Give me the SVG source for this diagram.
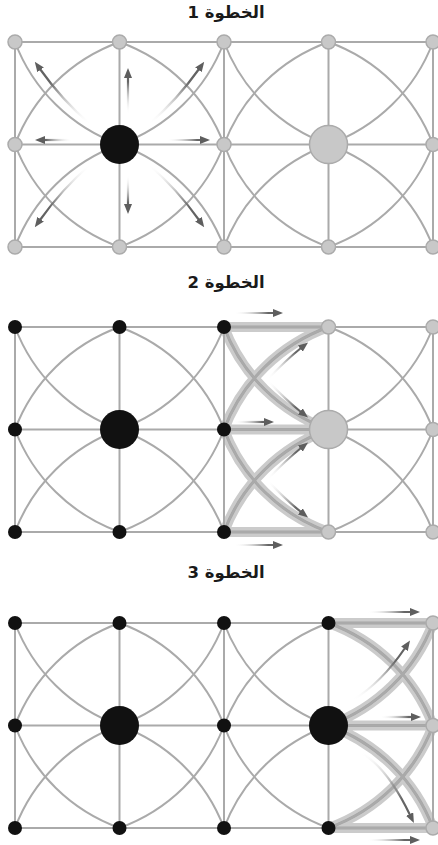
<svg xmlns="http://www.w3.org/2000/svg" width="438" height="845" viewBox="0 0 438 845">
<style>
.ln{fill:none;stroke:#aaaaaa;stroke-width:2}
.band{fill:none;stroke:#cbcbcb;stroke-width:10}
.bandc{fill:none;stroke:#a6a6a6;stroke-width:3}
.ng{fill:#c8c8c8;stroke:#ababab;stroke-width:1.5}
.nb{fill:#111111}
.arr{fill:none;stroke-width:2.2;marker-end:url(#ah)}
.title{font-family:'DejaVu Sans',sans-serif;font-weight:bold;font-size:16.5px;text-anchor:middle;fill:#1a1a1a}
</style>
<defs>
<marker id="ah" viewBox="0 0 10 8" refX="1" refY="4" markerWidth="10" markerHeight="8" markerUnits="userSpaceOnUse" orient="auto"><path d="M0,0 L10,4 L0,8 z" fill="#5e5e5e"/></marker>
<linearGradient id="fade"><stop offset="0" stop-color="#ffffff" stop-opacity="0"/><stop offset="0.7" stop-color="#666666" stop-opacity="1"/><stop offset="1" stop-color="#5e5e5e"/></linearGradient>
<linearGradient id="g1u" href="#fade" gradientUnits="userSpaceOnUse" x1="128" y1="114" x2="128" y2="68"/>
<linearGradient id="g1d" href="#fade" gradientUnits="userSpaceOnUse" x1="128" y1="175" x2="128" y2="214"/>
<linearGradient id="g1l" href="#fade" gradientUnits="userSpaceOnUse" x1="72" y1="140" x2="35" y2="140"/>
<linearGradient id="g1r" href="#fade" gradientUnits="userSpaceOnUse" x1="167" y1="140" x2="210" y2="140"/>
<linearGradient id="g1ul" href="#fade" gradientUnits="userSpaceOnUse" x1="90" y1="124" x2="36" y2="61"/>
<linearGradient id="g1ur" href="#fade" gradientUnits="userSpaceOnUse" x1="149" y1="124" x2="203" y2="61"/>
<linearGradient id="g1dl" href="#fade" gradientUnits="userSpaceOnUse" x1="90" y1="165" x2="36" y2="228"/>
<linearGradient id="g1dr" href="#fade" gradientUnits="userSpaceOnUse" x1="149" y1="165" x2="203" y2="228"/>
<linearGradient id="g2t" href="#fade" gradientUnits="userSpaceOnUse" x1="234" y1="313" x2="283" y2="313"/>
<linearGradient id="g2m" href="#fade" gradientUnits="userSpaceOnUse" x1="234" y1="422" x2="274" y2="422"/>
<linearGradient id="g2b" href="#fade" gradientUnits="userSpaceOnUse" x1="234" y1="545" x2="283" y2="545"/>
<linearGradient id="g2a" href="#fade" gradientUnits="userSpaceOnUse" x1="268" y1="379" x2="309" y2="343"/>
<linearGradient id="g2c" href="#fade" gradientUnits="userSpaceOnUse" x1="268" y1="381" x2="309" y2="417"/>
<linearGradient id="g2e" href="#fade" gradientUnits="userSpaceOnUse" x1="268" y1="479" x2="309" y2="443"/>
<linearGradient id="g2f" href="#fade" gradientUnits="userSpaceOnUse" x1="268" y1="481" x2="309" y2="517"/>
<linearGradient id="g3t" href="#fade" gradientUnits="userSpaceOnUse" x1="367" y1="612" x2="420" y2="612"/>
<linearGradient id="g3m" href="#fade" gradientUnits="userSpaceOnUse" x1="380" y1="717" x2="421" y2="717"/>
<linearGradient id="g3b" href="#fade" gradientUnits="userSpaceOnUse" x1="367" y1="840" x2="420" y2="840"/>
<linearGradient id="g3u" href="#fade" gradientUnits="userSpaceOnUse" x1="353" y1="700" x2="410" y2="640"/>
<linearGradient id="g3d" href="#fade" gradientUnits="userSpaceOnUse" x1="360" y1="752" x2="414" y2="823"/>
<g id="lattice" class="ln">
<path d="M15,0 H433 M15,102.5 H433 M15,205 H433 M15,0 V205 M119.5,0 V205 M224,0 V205 M328.5,0 V205 M433,0 V205"/>
<path d="M15,102.5 A176,173 0 0 1 119.5,0 A176,173 0 0 1 224,102.5 A176,173 0 0 1 119.5,205 A176,173 0 0 1 15,102.5"/>
<path d="M15,0 A176,173 0 0 0 119.5,102.5 A176,173 0 0 0 224,0"/>
<path d="M15,205 A176,173 0 0 1 119.5,102.5 A176,173 0 0 1 224,205"/>
<path d="M224,102.5 A176,173 0 0 1 328.5,0 A176,173 0 0 1 433,102.5 A176,173 0 0 1 328.5,205 A176,173 0 0 1 224,102.5"/>
<path d="M224,0 A176,173 0 0 0 328.5,102.5 A176,173 0 0 0 433,0"/>
<path d="M224,205 A176,173 0 0 1 328.5,102.5 A176,173 0 0 1 433,205"/>
</g>
</defs>

<g id="titles">
<text class="title" x="226" y="18" direction="rtl">الخطوة 1</text>
<text class="title" x="226" y="288" direction="rtl">الخطوة 2</text>
<text class="title" x="226" y="578" direction="rtl">الخطوة 3</text>
</g>

<g id="connectors">
<g id="highlight-step2">
<path class="band" d="M224,327 H328.5 M224,429.5 H328.5 M224,532 H328.5 M224,429.5 A176,173 0 0 1 328.5,327 M224,429.5 A176,173 0 0 0 328.5,532 M224,327 A176,173 0 0 0 328.5,429.5 M224,532 A176,173 0 0 1 328.5,429.5"/>
<path class="bandc" d="M224,327 H328.5 M224,429.5 H328.5 M224,532 H328.5 M224,429.5 A176,173 0 0 1 328.5,327 M224,429.5 A176,173 0 0 0 328.5,532 M224,327 A176,173 0 0 0 328.5,429.5 M224,532 A176,173 0 0 1 328.5,429.5"/>
</g>
<g id="highlight-step3">
<path class="band" d="M328.5,623 H433 M328.5,725.5 H433 M328.5,828 H433 M328.5,623 A176,173 0 0 1 433,725.5 M433,725.5 A176,173 0 0 1 328.5,828 M328.5,725.5 A176,173 0 0 0 433,623 M328.5,725.5 A176,173 0 0 1 433,828"/>
<path class="bandc" d="M328.5,623 H433 M328.5,725.5 H433 M328.5,828 H433 M328.5,623 A176,173 0 0 1 433,725.5 M433,725.5 A176,173 0 0 1 328.5,828 M328.5,725.5 A176,173 0 0 0 433,623 M328.5,725.5 A176,173 0 0 1 433,828"/>
</g>
<use href="#lattice" transform="translate(0,42)"/>
<use href="#lattice" transform="translate(0,327)"/>
<use href="#lattice" transform="translate(0,623)"/>
</g>

<g id="arrows">
<path class="arr" stroke="url(#g1u)" d="M128,114 L128,77"/>
<path class="arr" stroke="url(#g1d)" d="M128,175 L128,205"/>
<path class="arr" stroke="url(#g1l)" d="M72,140 L44,140"/>
<path class="arr" stroke="url(#g1r)" d="M167,140 L201,140"/>
<path class="arr" stroke="url(#g1ul)" d="M90,124 Q62,100 40,69"/>
<path class="arr" stroke="url(#g1ur)" d="M149,124 Q177,100 199,69"/>
<path class="arr" stroke="url(#g1dl)" d="M90,165 Q62,189 40,220"/>
<path class="arr" stroke="url(#g1dr)" d="M149,165 Q177,189 199,220"/>
<path class="arr" stroke="url(#g2t)" d="M234,313 L274,313"/>
<path class="arr" stroke="url(#g2m)" d="M234,422 L265,422"/>
<path class="arr" stroke="url(#g2b)" d="M234,545 L274,545"/>
<path class="arr" stroke="url(#g2a)" d="M268,379 Q286,360 301,348"/>
<path class="arr" stroke="url(#g2c)" d="M268,381 Q286,400 301,412"/>
<path class="arr" stroke="url(#g2e)" d="M268,479 Q286,460 301,448"/>
<path class="arr" stroke="url(#g2f)" d="M268,481 Q286,500 301,512"/>
<path class="arr" stroke="url(#g3t)" d="M367,612 L411,612"/>
<path class="arr" stroke="url(#g3m)" d="M380,717 L412,717"/>
<path class="arr" stroke="url(#g3b)" d="M367,840 L411,840"/>
<path class="arr" stroke="url(#g3u)" d="M353,700 Q382,682 405,648"/>
<path class="arr" stroke="url(#g3d)" d="M360,752 Q387,767 410,815"/>
</g>

<g id="nodes-step1">
<g id="s1-a1"><circle class="ng" cx="15" cy="42" r="7"/></g>
<g id="s1-a2"><circle class="ng" cx="119.5" cy="42" r="7"/></g>
<g id="s1-a3"><circle class="ng" cx="224" cy="42" r="7"/></g>
<g id="s1-a4"><circle class="ng" cx="328.5" cy="42" r="7"/></g>
<g id="s1-a5"><circle class="ng" cx="433" cy="42" r="7"/></g>
<g id="s1-b1"><circle class="ng" cx="15" cy="144.5" r="7"/></g>
<g id="s1-b2"><circle class="nb" cx="119.5" cy="144.5" r="19.5"/></g>
<g id="s1-b3"><circle class="ng" cx="224" cy="144.5" r="7"/></g>
<g id="s1-b4"><circle class="ng" cx="328.5" cy="144.5" r="19"/></g>
<g id="s1-b5"><circle class="ng" cx="433" cy="144.5" r="7"/></g>
<g id="s1-c1"><circle class="ng" cx="15" cy="247" r="7"/></g>
<g id="s1-c2"><circle class="ng" cx="119.5" cy="247" r="7"/></g>
<g id="s1-c3"><circle class="ng" cx="224" cy="247" r="7"/></g>
<g id="s1-c4"><circle class="ng" cx="328.5" cy="247" r="7"/></g>
<g id="s1-c5"><circle class="ng" cx="433" cy="247" r="7"/></g>
</g>

<g id="nodes-step2">
<g id="s2-a1"><circle class="nb" cx="15" cy="327" r="7"/></g>
<g id="s2-a2"><circle class="nb" cx="119.5" cy="327" r="7"/></g>
<g id="s2-a3"><circle class="nb" cx="224" cy="327" r="7"/></g>
<g id="s2-a4"><circle class="ng" cx="328.5" cy="327" r="7"/></g>
<g id="s2-a5"><circle class="ng" cx="433" cy="327" r="7"/></g>
<g id="s2-b1"><circle class="nb" cx="15" cy="429.5" r="7"/></g>
<g id="s2-b2"><circle class="nb" cx="119.5" cy="429.5" r="19.5"/></g>
<g id="s2-b3"><circle class="nb" cx="224" cy="429.5" r="7"/></g>
<g id="s2-b4"><circle class="ng" cx="328.5" cy="429.5" r="19"/></g>
<g id="s2-b5"><circle class="ng" cx="433" cy="429.5" r="7"/></g>
<g id="s2-c1"><circle class="nb" cx="15" cy="532" r="7"/></g>
<g id="s2-c2"><circle class="nb" cx="119.5" cy="532" r="7"/></g>
<g id="s2-c3"><circle class="nb" cx="224" cy="532" r="7"/></g>
<g id="s2-c4"><circle class="ng" cx="328.5" cy="532" r="7"/></g>
<g id="s2-c5"><circle class="ng" cx="433" cy="532" r="7"/></g>
</g>

<g id="nodes-step3">
<g id="s3-a1"><circle class="nb" cx="15" cy="623" r="7"/></g>
<g id="s3-a2"><circle class="nb" cx="119.5" cy="623" r="7"/></g>
<g id="s3-a3"><circle class="nb" cx="224" cy="623" r="7"/></g>
<g id="s3-a4"><circle class="nb" cx="328.5" cy="623" r="7"/></g>
<g id="s3-a5"><circle class="ng" cx="433" cy="623" r="7"/></g>
<g id="s3-b1"><circle class="nb" cx="15" cy="725.5" r="7"/></g>
<g id="s3-b2"><circle class="nb" cx="119.5" cy="725.5" r="19.5"/></g>
<g id="s3-b3"><circle class="nb" cx="224" cy="725.5" r="7"/></g>
<g id="s3-b4"><circle class="nb" cx="328.5" cy="725.5" r="19.5"/></g>
<g id="s3-b5"><circle class="ng" cx="433" cy="725.5" r="7"/></g>
<g id="s3-c1"><circle class="nb" cx="15" cy="828" r="7"/></g>
<g id="s3-c2"><circle class="nb" cx="119.5" cy="828" r="7"/></g>
<g id="s3-c3"><circle class="nb" cx="224" cy="828" r="7"/></g>
<g id="s3-c4"><circle class="nb" cx="328.5" cy="828" r="7"/></g>
<g id="s3-c5"><circle class="ng" cx="433" cy="828" r="7"/></g>
</g>
</svg>
